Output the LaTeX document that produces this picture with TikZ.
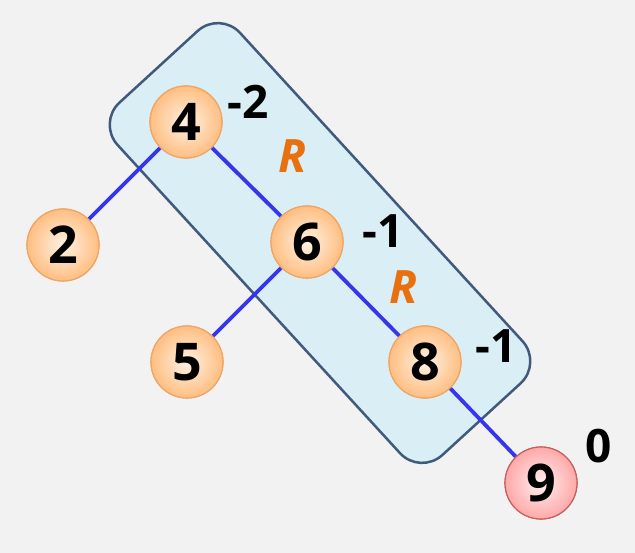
\documentclass[tikz,border=0pt]{standalone}
\usepackage{fontspec}
\setmainfont{Open Sans}
\definecolor{bg}{HTML}{F2F2F2}
\definecolor{boxfill}{HTML}{DAEEF5}
\definecolor{boxline}{HTML}{3F5A7A}
\definecolor{edgeblue}{HTML}{3535F0}
\definecolor{orin}{HTML}{FFF2E6}
\definecolor{orout}{HTML}{FFBE80}
\definecolor{orline}{HTML}{EFA565}
\definecolor{pkin}{HTML}{FFF0F0}
\definecolor{pkout}{HTML}{FFA8A8}
\definecolor{pkline}{HTML}{C86060}
\definecolor{rot}{HTML}{E8700F}
\tikzset{
  tnode/.style={circle, minimum size=72pt, inner sep=0pt, draw=orline, line width=1.2pt,
    inner color=orin, outer color=orout, font=\fontsize{52}{52}\selectfont\bfseries},
  pnode/.style={tnode, draw=pkline, inner color=pkin, outer color=pkout},
  bal/.style={font=\fontsize{46}{46}\selectfont\bfseries, inner sep=0pt},
  rlab/.style={font=\fontsize{46}{46}\selectfont\bfseries\itshape, text=rot, inner sep=0pt},
  tedge/.style={draw=edgeblue, line width=3.8pt},
}
\begin{document}
\begin{tikzpicture}[x=1pt,y=-1pt]
\fill[bg] (0,0) rectangle (635,553);
\useasboundingbox (0,0) rectangle (635,553);
\node[draw=boxline, fill=boxfill, line width=2.5pt, rounded corners=30pt,
  minimum width=478pt, minimum height=166pt, rotate=-47.5, inner sep=0pt] (box) at (320,243) {};
\node[tnode] (n4) at (186,122) {4};
\node[tnode] (n2) at (63,245) {2};
\node[tnode] (n6) at (307,242) {6};
\node[tnode] (n5) at (187,362) {5};
\node[tnode] (n8) at (425,362) {8};
\node[pnode] (n9) at (541,483) {9};
\draw[tedge] (n4) -- (n2);
\draw[tedge] (n4) -- (n6);
\draw[tedge] (n6) -- (n5);
\draw[tedge] (n6) -- (n8);
\draw[tedge] (n8) -- (n9);
\node[tnode] at (n4) {4};
\node[tnode] at (n2) {2};
\node[tnode] at (n6) {6};
\node[tnode] at (n5) {5};
\node[tnode] at (n8) {8};
\node[pnode] at (n9) {9};
\node[bal] (b4) at (248,102) {-2};
\node[bal] (b6) at (383,231) {-1};
\node[bal] (b8) at (496,346) {-1};
\node[bal] (b9) at (599,446) {0};
\node[rlab] (r1) at (293,156) {R};
\node[rlab] (r2) at (404,287) {R};
\end{tikzpicture}
\end{document}
